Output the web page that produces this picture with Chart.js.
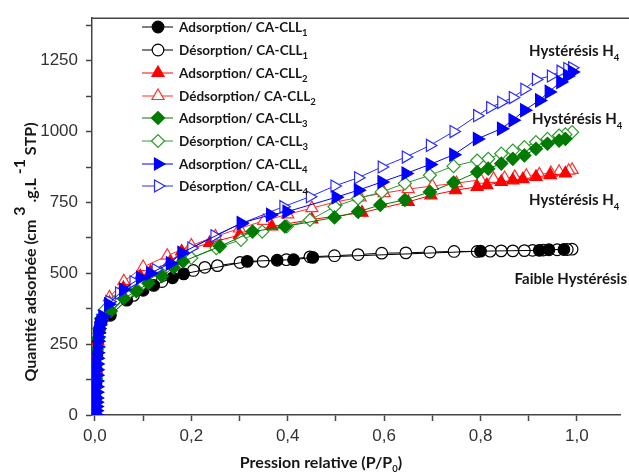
<!DOCTYPE html>
<html>
<head>
<meta charset="utf-8">
<script src="https://cdn.jsdelivr.net/npm/chart.js@4/dist/chart.umd.min.js"></script>
<style>
  html, body { margin: 0; padding: 0; background: #fff; }
  #wrap { width: 629px; height: 475px; }
</style>
</head>
<body>
<div id="wrap"><canvas id="c" width="629" height="475"></canvas></div>
<script>
// CA-CLL1
const pAds1 = [0.0005, 0.001, 0.002, 0.003, 0.004, 0.006, 0.009, 0.013, 0.032, 0.066, 0.1, 0.122, 0.161, 0.184, 0.316, 0.378, 0.412, 0.452, 0.80, 0.922, 0.942, 0.973];
const qAds1 = [20, 60, 110, 160, 210, 260, 300, 330, 352, 405, 440, 457, 484, 498, 542, 546, 548, 556, 578, 581, 583, 584];
const pDes1 = [0.99, 0.98, 0.959, 0.93, 0.908, 0.891, 0.867, 0.843, 0.82, 0.793, 0.745, 0.695, 0.645, 0.595, 0.546, 0.497, 0.446, 0.397, 0.349, 0.301, 0.254, 0.228, 0.204, 0.139, 0.08];
const qDes1 = [585, 584, 583, 582, 581, 580, 579, 579, 578, 577, 577, 575, 572, 571, 566, 562, 558, 548, 542, 538, 527, 521, 510, 471, 422];

// CA-CLL2
const pAds2 = [0.0005, 0.001, 0.002, 0.003, 0.004, 0.006, 0.009, 0.014, 0.03, 0.059, 0.094, 0.115, 0.156, 0.18, 0.238, 0.30, 0.367, 0.45, 0.554, 0.65, 0.697, 0.748, 0.793, 0.813, 0.843, 0.867, 0.888, 0.915, 0.945, 0.976];
const qAds2 = [20, 60, 110, 160, 210, 260, 300, 348, 396, 448, 489, 505, 540, 577, 607, 635, 665, 690, 714, 752, 775, 793, 805, 811, 822, 828, 832, 840, 846, 852];
const pDes2 = [0.99, 0.983, 0.963, 0.946, 0.922, 0.895, 0.871, 0.85, 0.827, 0.80, 0.75, 0.70, 0.65, 0.60, 0.55, 0.50, 0.45, 0.40, 0.35, 0.30, 0.25, 0.20, 0.15, 0.10, 0.06, 0.03];
const qDes2 = [865, 862, 858, 854, 849, 844, 840, 836, 833, 830, 818, 808, 797, 783, 768, 752, 730, 708, 685, 658, 630, 598, 562, 522, 472, 415];

// CA-CLL3
const pAds3 = [0, 0.0005, 0.001, 0.002, 0.003, 0.004, 0.006, 0.009, 0.013, 0.033, 0.06, 0.086, 0.111, 0.139, 0.163, 0.183, 0.259, 0.327, 0.394, 0.497, 0.546, 0.592, 0.643, 0.695, 0.744, 0.793, 0.816, 0.843, 0.867, 0.891, 0.915, 0.939, 0.963, 0.976];
const qAds3 = [0, 30, 80, 130, 180, 230, 270, 305, 340, 367, 412, 437, 465, 490, 520, 542, 595, 647, 665, 697, 717, 741, 759, 787, 820, 857, 869, 887, 904, 916, 939, 957, 968, 974];
const pDes3 = [0.99, 0.976, 0.963, 0.939, 0.915, 0.891, 0.867, 0.843, 0.816, 0.793, 0.744, 0.695, 0.643, 0.595, 0.546, 0.497, 0.446, 0.398, 0.347, 0.303, 0.252, 0.2, 0.136, 0.1, 0.07, 0.04, 0.02];
const qDes3 = [998, 990, 986, 974, 963, 945, 933, 922, 904, 898, 878, 846, 817, 787, 764, 735, 688, 665, 647, 618, 589, 554, 502, 465, 432, 398, 370];

// CA-CLL4
const pAds4 = [0.002, 0.002, 0.0022, 0.0024, 0.0026, 0.0028, 0.003, 0.0032, 0.0034, 0.0036, 0.0038, 0.004, 0.0045, 0.005, 0.0055, 0.006, 0.0065, 0.0075, 0.009, 0.012, 0.016, 0.028, 0.059, 0.094, 0.115, 0.156, 0.18, 0.303, 0.364, 0.398, 0.5, 0.546, 0.595, 0.645, 0.695, 0.744, 0.793, 0.843, 0.867, 0.891, 0.922, 0.942, 0.966, 0.98, 0.99];
const qAds4 = [0, 15, 30, 45, 60, 80, 100, 120, 140, 160, 180, 200, 220, 240, 260, 275, 290, 305, 318, 332, 348, 391, 443, 484, 500, 535, 572, 677, 706, 717, 768, 793, 822, 852, 884, 918, 974, 1010, 1040, 1075, 1110, 1140, 1175, 1196, 1210];
const pDes4 = [0.99, 0.98, 0.966, 0.946, 0.915, 0.891, 0.867, 0.843, 0.82, 0.793, 0.744, 0.695, 0.645, 0.595, 0.546, 0.497, 0.446, 0.391, 0.303, 0.248, 0.2, 0.126, 0.08, 0.05, 0.03];
const qDes4 = [1225, 1222, 1213, 1196, 1184, 1149, 1120, 1103, 1085, 1056, 1000, 951, 910, 875, 837, 808, 770, 735, 675, 632, 589, 513, 470, 430, 400];

const xTicks = [0, 0.2, 0.4, 0.6, 0.8, 1.0];
const yTicks = [0, 250, 500, 750, 1000, 1250];

const FAM = "Lato, 'Open Sans', sans-serif";
const LEG = "bold 13.5px " + FAM;
const TITLE = "bold 16px " + FAM;
const ANN = "bold 15px " + FAM;
const SUB = "bold 9.5px " + FAM;
const INK = "#161616";

function pts(p, q) {
  return p.map((x, i) => ({ x: x, y: q[i] }));
}

function serie(label, sub, p, q, color, fill, style, rot, r, order) {
  return {
    label: label, sub: sub,
    data: pts(p, q),
    showLine: true,
    borderColor: color,
    borderWidth: 1,
    backgroundColor: fill,
    pointBackgroundColor: fill,
    pointBorderColor: color,
    pointBorderWidth: 1.2,
    pointStyle: style,
    pointRotation: rot,
    pointRadius: r,
    order: order
  };
}

const datasets = [
  serie("Adsorption/ CA-CLL", "1", pAds1, qAds1, "#000000", "#000000", "circle", 0, 5.8, 6),
  serie("Désorption/ CA-CLL", "1", pDes1, qDes1, "#000000", "#ffffff", "circle", 0, 5.8, 7),
  serie("Adsorption/ CA-CLL", "2", pAds2, qAds2, "#ff0000", "#ff0000", "triangle", 0, 7, 4),
  serie("Dédsorption/ CA-CLL", "2", pDes2, qDes2, "#ff3030", "#ffffff", "triangle", 0, 7, 5),
  serie("Adsorption/ CA-CLL", "3", pAds3, qAds3, "#007a00", "#007a00", "rectRot", 0, 6.5, 2),
  serie("Désorption/ CA-CLL", "3", pDes3, qDes3, "#2e9a2e", "#ffffff", "rectRot", 0, 6.5, 3),
  serie("Adsorption/ CA-CLL", "4", pAds4, qAds4, "#0000ff", "#0000ff", "triangle", 90, 7.5, 0),
  serie("Désorption/ CA-CLL", "4", pDes4, qDes4, "#2a2aff", "#ffffff", "triangle", 90, 7, 1)
];

// draw a run of text pieces: [text, dy, font]
function rich(ctx, parts, x, y, align) {
  let w = 0;
  parts.forEach(pt => { ctx.font = pt[2]; w += ctx.measureText(pt[0]).width; });
  let cx = align === "center" ? x - w / 2 : align === "right" ? x - w : x;
  parts.forEach(pt => {
    ctx.font = pt[2];
    ctx.fillText(pt[0], cx, y + pt[1]);
    cx += ctx.measureText(pt[0]).width;
  });
}

const decor = {
  id: "decor",
  afterDraw(chart) {
    const ctx = chart.ctx;
    const a = chart.chartArea;
    ctx.save();
    // top frame line
    ctx.strokeStyle = "#444";
    ctx.lineWidth = 1.5;
    ctx.beginPath();
    ctx.moveTo(a.left, a.top);
    ctx.lineTo(629, a.top);
    ctx.stroke();

    ctx.fillStyle = INK;
    ctx.textBaseline = "alphabetic";

    // x title
    rich(ctx, [["Pression relative (P/P", 0, TITLE], ["0", 4, SUB], [")", 0, TITLE]], 321, 468, "center");

    // y title (rotated)
    ctx.save();
    ctx.translate(36, 252);
    ctx.rotate(-Math.PI / 2);
    rich(ctx, [["Quantité adsorbée (cm", 0, TITLE], [" 3", -11, TITLE], [" .g.L", 0, TITLE], [" -1", -11, TITLE], [" STP)", 0, TITLE]], 0, 0, "center");
    ctx.restore();

    // annotations
    const H = [["Hystérésis H", 0, ANN], ["4", 5, SUB]];
    rich(ctx, H, 529, 56, "left");
    rich(ctx, H, 532, 124, "left");
    rich(ctx, H, 529, 205, "left");
    rich(ctx, [["Faible Hystérésis", 0, ANN]], 627, 284, "right");

    // legend
    const rows = [27, 50, 73, 96, 118, 141, 164, 186];
    chart.data.datasets.forEach((ds, i) => {
      const y = rows[i];
      ctx.strokeStyle = ds.borderColor;
      ctx.lineWidth = 1;
      ctx.beginPath();
      ctx.moveTo(142, y);
      ctx.lineTo(173, y);
      ctx.stroke();
      ctx.fillStyle = ds.pointBackgroundColor;
      ctx.strokeStyle = ds.pointBorderColor;
      ctx.lineWidth = 1.2;
      Chart.helpers.drawPoint(ctx, {
        pointStyle: ds.pointStyle, rotation: ds.pointRotation,
        radius: Math.min(ds.pointRadius, 7), borderWidth: 1.2
      }, 158, y);
      ctx.fillStyle = INK;
      rich(ctx, [[ds.label, 0, LEG], [ds.sub, 4, SUB]], 179, y + 5, "left");
    });
    ctx.restore();
  }
};

new Chart(document.getElementById("c"), {
  type: "scatter",
  data: { datasets: datasets },
  options: {
    responsive: false,
    animation: false,
    layout: { padding: { top: 15, right: 0, left: 0, bottom: 0 } },
    plugins: { legend: { display: false }, tooltip: { enabled: false } },
    scales: {
      x: {
        type: "linear",
        min: -0.0061,
        max: 1.09,
        afterFit: s => { s.height = 60; },
        border: { color: "#444", width: 1.5 },
        grid: { drawOnChartArea: false, drawTicks: true, tickLength: 6, tickColor: "#444", tickWidth: 1.5 },
        ticks: {
          stepSize: 0.1,
          includeBounds: false,
          autoSkip: false,
          maxRotation: 0,
          padding: 5,
          color: "#333",
          font: { family: "'Liberation Sans', Arial, sans-serif", size: 17 },
          callback: v => {
            const k = xTicks.find(t => Math.abs(t - v) < 1e-6);
            return k === undefined ? "" : k.toFixed(1).replace(".", ",");
          }
        }
      },
      y: {
        type: "linear",
        min: 0,
        max: 1400,
        afterFit: s => { s.width = 92; },
        border: { color: "#444", width: 1.5 },
        grid: { drawOnChartArea: false, drawTicks: true, tickLength: 6, tickColor: "#444", tickWidth: 1.5 },
        ticks: {
          stepSize: 125,
          includeBounds: false,
          autoSkip: false,
          padding: 8,
          color: "#333",
          font: { family: "'Liberation Sans', Arial, sans-serif", size: 17 },
          callback: v => (yTicks.includes(v) ? String(v) : "")
        }
      }
    }
  },
  plugins: [decor]
});
</script>
</body>
</html>
